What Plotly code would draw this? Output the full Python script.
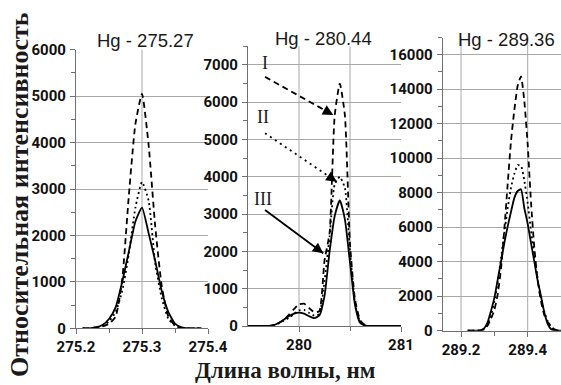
import plotly.graph_objects as go

# ---------------- data ----------------
x1 = [275.21, 275.22, 275.23, 275.24, 275.25, 275.26, 275.27, 275.28, 275.29, 275.30,
      275.31, 275.32, 275.33, 275.34, 275.35, 275.36, 275.37, 275.38, 275.39]
solid1 = [0, 0, 20, 70, 200, 450, 1000, 1650, 2300, 2600,
          2050, 1450, 800, 350, 100, 20, 0, 0, 0]
dashed1 = [0, 0, 20, 40, 100, 250, 1050, 2850, 4400, 5050,
           3950, 2200, 900, 250, 60, 10, 0, 0, 0]
dotted1 = [0, 0, 20, 50, 150, 350, 800, 1600, 2600, 3150,
           2750, 1400, 650, 200, 60, 10, 0, 0, 0]

x2 = [279.50, 279.55, 279.60, 279.65, 279.70, 279.75, 279.80, 279.85, 279.90, 279.95,
      280.00, 280.05, 280.10, 280.15, 280.20, 280.25, 280.30, 280.35, 280.40, 280.45,
      280.50, 280.55, 280.60, 280.65, 280.70, 280.75, 280.80, 280.85, 280.90, 280.95, 281.00]
solid2 = [0, 0, 0, 0, 0, 20, 80, 170, 260, 330,
          360, 330, 260, 210, 280, 800, 2000, 2950, 3370, 2860,
          1700, 550, 80, 10, 0, 0, 0, 0, 0, 0, 0]
dashed2 = [0, 0, 0, 0, 0, 30, 80, 160, 300, 450,
           580, 600, 480, 370, 400, 1750, 2500, 5650, 6500, 5650,
           2200, 700, 150, 20, 0, 0, 0, 0, 0, 0, 0]
dotted2 = [0, 0, 0, 0, 0, 20, 70, 140, 220, 320,
           420, 430, 350, 280, 320, 1200, 2400, 3800, 4000, 3700,
           2000, 600, 100, 10, 0, 0, 0, 0, 0, 0, 0]

x3 = [289.22, 289.23, 289.24, 289.25, 289.26, 289.27, 289.28, 289.29, 289.30, 289.31,
      289.32, 289.33, 289.34, 289.35, 289.36, 289.37, 289.38, 289.39, 289.40, 289.41,
      289.42, 289.43, 289.44, 289.45, 289.46, 289.47, 289.48, 289.49, 289.50]
solid3 = [0, 0, 0, 0, 30, 150, 500, 1150, 1900, 2950,
          4000, 5100, 6050, 6900, 7700, 8100, 8200, 7100, 6200, 5080,
          4000, 2900, 2000, 1050, 400, 100, 20, 0, 0]
dashed3 = [0, 0, 0, 0, 20, 100, 300, 700, 1200, 2100,
           3600, 5900, 8500, 11000, 12800, 14200, 14750, 13300, 10800, 7450,
           4800, 2900, 1700, 900, 500, 280, 80, 10, 0]
dotted3 = [0, 0, 0, 0, 20, 100, 350, 900, 1700, 2800,
           4200, 5700, 7100, 8300, 9100, 9600, 9550, 8700, 7400, 5800,
           4300, 3000, 1900, 1100, 550, 200, 60, 10, 0]

# tick labels
xt1 = [275.2, 275.3, 275.4]
xt2 = [280, 281]
xt3 = [289.2, 289.4]
yt1 = [0, 1000, 2000, 3000, 4000, 5000, 6000]
yt2 = [0, 1000, 2000, 3000, 4000, 5000, 6000, 7000]
yt3 = [0, 2000, 4000, 6000, 8000, 10000, 12000, 14000, 16000]

titles = ["Hg - 275.27", "Hg - 280.44", "Hg - 289.36"]
x_label = "Длина волны, нм"
y_label = "Относительная интенсивность"
curve_labels = ["I", "II", "III"]

# ---------------- figure ----------------
W, H = 561, 385
fig = go.Figure()

def px(x):
    return x / W

def py(y):
    return 1 - y / H

def lab(vals):
    return [f"<b>{v:g}</b>" for v in vals]

LW = 1.8
styles = {
    "solid": dict(color="black", width=LW, dash="solid"),
    "dash": dict(color="black", width=LW, dash="6px,4px"),
    "dot": dict(color="black", width=LW, dash="2px,3px"),
}

panels = [
    (x1, solid1, dashed1, dotted1, "x", "y"),
    (x2, solid2, dashed2, dotted2, "x2", "y2"),
    (x3, solid3, dashed3, dotted3, "x3", "y3"),
]
for xs, s, d, o, xa, ya in panels:
    for ys, st in ((o, "dot"), (d, "dash"), (s, "solid")):
        fig.add_trace(go.Scatter(x=xs, y=ys, mode="lines", line=dict(**styles[st], shape="spline", smoothing=0.5),
                                 xaxis=xa, yaxis=ya, showlegend=False, hoverinfo="skip"))

axis_col = "#707070"
grid_col = "#a8a8a8"
tickfont = dict(family="Roboto", size=15, color="#111111", weight=900)

common_x = dict(showline=True, linecolor=axis_col, linewidth=1.2, showgrid=False,
                ticks="outside", ticklen=5, tickcolor=axis_col, zeroline=False,
                tickfont=tickfont, tickmode="array")
common_y = dict(showline=True, linecolor=axis_col, linewidth=1.2, showgrid=True, gridcolor=grid_col,
                gridwidth=1, ticks="outside", ticklen=5, tickcolor=axis_col, zeroline=False,
                tickfont=tickfont, ticklabelstandoff=1, tickmode="array")

fig.update_layout(
    width=W, height=H, margin=dict(l=0, r=0, t=0, b=0, autoexpand=False),
    paper_bgcolor="white", plot_bgcolor="white",
    xaxis=dict(**common_x, domain=[px(76), px(208)], range=[275.2, 275.4], anchor="y",
               tickvals=xt1, ticktext=lab(xt1),
               minor=dict(tickvals=[275.25, 275.35], ticks="outside", ticklen=4, tickcolor=axis_col, showgrid=False)),
    yaxis=dict(**common_y, domain=[py(328.3), py(49.7)], range=[0, 6000], anchor="x",
               tickvals=yt1, ticktext=lab(yt1),
               minor=dict(dtick=500, ticks="outside", ticklen=4, tickcolor=axis_col, showgrid=False)),
    xaxis2=dict(**common_x, domain=[px(248), px(401)], range=[279.5, 281], anchor="y2",
                tickvals=xt2, ticktext=lab(xt2),
                minor=dict(tickvals=[280.5], ticks="outside", ticklen=4, tickcolor=axis_col, showgrid=False)),
    yaxis2=dict(**common_y, domain=[py(326), py(46.3)], range=[0, 7500], anchor="x2",
                tickvals=yt2, ticktext=lab(yt2),
                minor=dict(dtick=500, ticks="outside", ticklen=4, tickcolor=axis_col, showgrid=False)),
    xaxis3=dict(**common_x, domain=[px(442.7), 1.0], range=[289.145, 289.5], anchor="y3",
                tickvals=xt3, ticktext=lab(xt3),
                minor=dict(tickvals=[289.3], ticks="outside", ticklen=4, tickcolor=axis_col, showgrid=False)),
    yaxis3=dict(**common_y, domain=[py(330.7), py(37.5)], range=[0, 17000], anchor="x3",
                tickvals=yt3, ticktext=lab(yt3),
                minor=dict(dtick=1000, ticks="outside", ticklen=4, tickcolor=axis_col, showgrid=False)),
)

# vertical grid lines (interior only, as in the reference)
vgrid = [("x", "y", [275.3]), ("x2", "y2", [280.0, 280.5]), ("x3", "y3", [289.2, 289.4])]
for xa, ya, vals in vgrid:
    for v in vals:
        fig.add_shape(type="line", xref=xa, yref=f"{ya} domain", x0=v, x1=v, y0=0, y1=1,
                      line=dict(color=grid_col, width=1), layer="below")

# panel titles
for t, (cx, cy) in zip(titles, [(145, 40), (323, 38), (507, 39)]):
    fig.add_annotation(text=t, x=px(cx), y=py(cy), xref="paper", yref="paper", showarrow=False,
                       font=dict(family="Arial", size=18.5, color="#1a1a1a"),
                       xanchor="center", yanchor="middle")

# axis titles
fig.add_annotation(text=f"<b>{x_label}</b>", x=px(285), y=py(370), xref="paper", yref="paper", showarrow=False,
                   font=dict(family="Liberation Serif", size=23, color="#1a1a1a"),
                   xanchor="center", yanchor="middle")
fig.add_annotation(text=f"<b>{y_label}</b>", x=px(20), y=py(195), xref="paper", yref="paper", showarrow=False,
                   textangle=-90,
                   font=dict(family="Liberation Serif", size=26, color="#1a1a1a"),
                   xanchor="center", yanchor="middle")

# curve labels + arrows in panel 2
label_pos = [(279.667, 7050), (279.65, 5600), (279.65, 3400)]
arrows = [((279.667, 6680), (280.336, 5660), "6px,4px"),
          ((279.667, 5170), (280.37, 3870), "2px,4px"),
          ((279.667, 3110), (280.238, 1950), "solid")]
for lb, (lx, ly) in zip(curve_labels, label_pos):
    fig.add_annotation(text=lb, x=lx, y=ly, xref="x2", yref="y2", showarrow=False,
                       font=dict(family="Liberation Serif", size=18, color="#1a1a1a"),
                       xanchor="center", yanchor="middle")
for (t0, t1, dsh) in arrows:
    fig.add_shape(type="line", x0=t0[0], y0=t0[1], x1=t1[0], y1=t1[1], xref="x2", yref="y2",
                  line=dict(color="black", width=1.8, dash=dsh))
    hx = t1[0] - (t1[0] - t0[0]) * 0.08
    hy = t1[1] - (t1[1] - t0[1]) * 0.08
    fig.add_annotation(x=t1[0], y=t1[1], ax=hx, ay=hy, xref="x2", yref="y2", axref="x2", ayref="y2",
                       showarrow=True, arrowhead=2, arrowsize=1.4, arrowwidth=1.5, arrowcolor="black", text="")

fig.write_html("out.html")
